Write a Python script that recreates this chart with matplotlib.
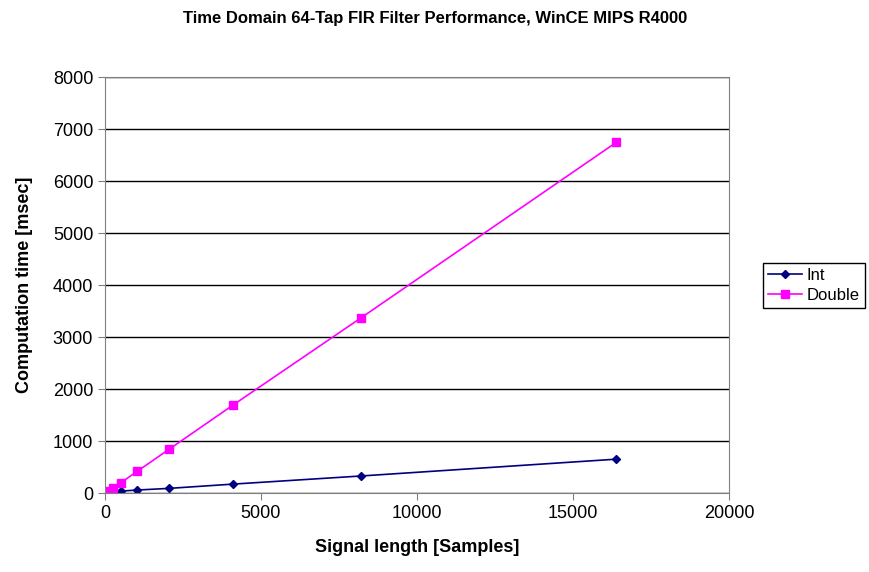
import matplotlib.pyplot as plt

plt.rcParams['font.family'] = ['Liberation Sans', 'DejaVu Sans']

# signal lengths and timings (msec)
signal_len = [128, 256, 512, 1024, 2048, 4096, 8192, 16384]
int_ms = [10, 20, 38, 58, 90, 172, 328, 652]
double_ms = [45, 95, 200, 415, 840, 1690, 3365, 6745]

fig = plt.figure(figsize=(8.7, 5.72), dpi=100)
ax = fig.add_axes([0.1207, 0.138, 0.7172, 0.727])

ax.plot(signal_len, int_ms, color='#000080', marker='D', markersize=4.5,
        linewidth=1.2, label='Int')
ax.plot(signal_len, double_ms, color='#FF00FF', marker='s', markersize=6,
        linewidth=1.2, label='Double')

ax.set_xlim(0, 20000)
ax.set_ylim(0, 8000)
ax.set_xticks(range(0, 20001, 5000))
ax.set_yticks(range(0, 8001, 1000))
ax.yaxis.grid(True, color='black', linewidth=1)
ax.set_axisbelow(True)
for s in ax.spines.values():
    s.set_color('#808080')
ax.tick_params(axis='both', labelsize=13, color='#808080', length=5)

ax.set_xlabel('Signal length [Samples]', fontsize=13, fontweight='bold', labelpad=12)
ax.set_ylabel('Computation time [msec]', fontsize=13, fontweight='bold', labelpad=14)
fig.text(0.5, 0.968, 'Time Domain 64-Tap FIR Filter Performance, WinCE MIPS R4000',
         ha='center', va='center', fontsize=12, fontweight='bold')

ax.legend(loc='center left', bbox_to_anchor=(1.055, 0.5), fontsize=12,
          frameon=True, fancybox=False, edgecolor='black', framealpha=1,
          handlelength=2.0, handletextpad=0.3, borderpad=0.3, labelspacing=0.3,
          borderaxespad=0)

fig.savefig('out.png', dpi=100)
